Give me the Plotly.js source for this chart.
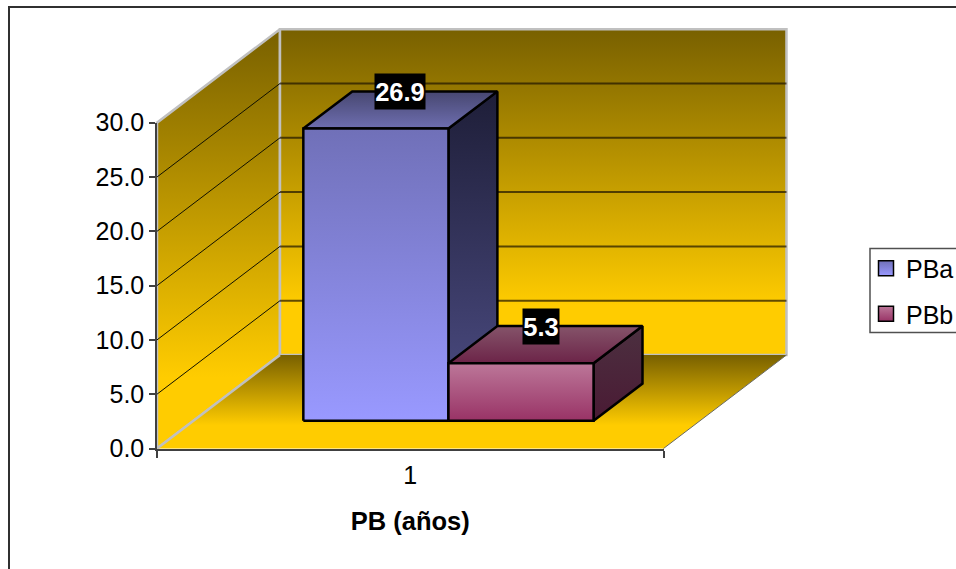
<!DOCTYPE html>
<html>
<head>
<meta charset="utf-8">
<script src="https://cdn.plot.ly/plotly-3.0.1.min.js"></script>
<style>html,body{margin:0;padding:0;background:#fff}#chart{width:956px;height:569px}</style>
</head>
<body>
<div id="chart"></div>
<script>
// Series and labels
const categories = [1];
const seriesNames = ['PBa', 'PBb'];
const seriesValues = [26.9, 5.3];
const yTicks = [0, 5, 10, 15, 20, 25, 30];
const axisTitle = 'PB (años)';

// Oblique box projection, in axis units
const DEPTH_X = 0.2428;     // horizontal run of the full floor depth
const DEPTH_Y = 8.61;       // vertical rise of the full floor depth
const BAR_WIDTH = 0.2865;   // each bar, as a share of the category slot
const BAR_OFFSET = 0.0033;  // the pair of bars sits a touch right of the slot centre
const DEPTH_NEAR = 0.297;   // front of the bars, as a share of the depth
const DEPTH_FAR = 0.695;    // back of the bars
const LABEL_SHIFT = [0, -4];
const LABEL_WIDTHS = [50, 36];

const XMIN = categories[0] - 0.5, XMAX = categories[0] + 0.5;
const YMIN = yTicks[0], YMAX = yTicks[yTicks.length - 1];

const faceColors = [
  {front: ['#9999FF', '#7070B8'], top: ['#6E6EB0', '#474770'], side: ['#4E4E86', '#1E1E38']},
  {front: ['#993366', '#BC7799'], top: ['#6C2448', '#85546A'], side: ['#4A1A34', '#4C3040']}
];

// Page geometry: the visible axes frame the front plane, and the drawing
// axes share their scale while reaching far enough to hold the depth.
const W = 956, H = 569;
const FRONT = {l: 157, r: 663.5, t: 122.7, b: 448.5};
const AREA = {l: 150, r: 795, t: 20, b: 456};
const M = {l: AREA.l, r: W - AREA.r, t: AREA.t, b: H - AREA.b};
const fx = p => (p - AREA.l) / (AREA.r - AREA.l);
const fy = p => (AREA.b - p) / (AREA.b - AREA.t);
const unitX = (XMAX - XMIN) / (FRONT.r - FRONT.l);
const unitY = (YMAX - YMIN) / (FRONT.b - FRONT.t);
const drawRangeX = [XMIN - (FRONT.l - AREA.l) * unitX, XMAX + (AREA.r - FRONT.r) * unitX];
const drawRangeY = [YMIN - (AREA.b - FRONT.b) * unitY, YMAX + (FRONT.t - AREA.t) * unitY];

const px = (x, d) => x + d * DEPTH_X;
const py = (v, d) => v + d * DEPTH_Y;

// A closed polygon from [x, value, depth] corners
function poly(corners) {
  const closed = corners.concat([corners[0]]);
  return {x: closed.map(c => px(c[0], c[2])), y: closed.map(c => py(c[1], c[2]))};
}

function face(corners, scale, line) {
  return Object.assign(poly(corners), {
    type: 'scatter', mode: line ? 'lines' : 'none', fill: 'toself', showlegend: false,
    hoverinfo: 'skip',
    line: line || {width: 0},
    fillgradient: {type: 'vertical', colorscale: scale}
  });
}

function stroke(corners, line) {
  const p = poly(corners);
  return {x: p.x.slice(0, -1), y: p.y.slice(0, -1), type: 'scatter', mode: 'lines',
    showlegend: false, hoverinfo: 'skip', line: line};
}

function stops(bottom, top) { return [[0, bottom], [1, top]]; }

const traces = [];

// Chart walls and floor
const wallEdge = {color: '#C0C0C0', width: 2.5};
traces.push(face([[XMIN, YMIN, 0], [XMIN, YMIN, 1], [XMIN, YMAX, 1], [XMIN, YMAX, 0]],
  [[0, '#FFCC00'], [0.17, '#FFCC00'], [1, '#786000']], wallEdge));
traces.push(face([[XMIN, YMIN, 1], [XMAX, YMIN, 1], [XMAX, YMAX, 1], [XMIN, YMAX, 1]],
  [[0, '#FFCC00'], [0.15, '#FFCC00'], [1, '#786000']], wallEdge));
traces.push(face([[XMIN, YMIN, 0], [XMAX, YMIN, 0], [XMAX, YMIN, 1], [XMIN, YMIN, 1]],
  [[0, '#FFCC00'], [0.25, '#FFCC00'], [1, '#786000']], null));

// Floor edges
traces.push(stroke([[XMIN, YMIN, 0], [XMIN, YMIN, 1]], {color: '#C0C0C0', width: 2.5}));
traces.push(stroke([[XMAX, YMIN, 0], [XMAX, YMIN, 1]], {color: '#6A6A60', width: 1}));

// Gridlines on the back wall and along the side wall
const backX = [], backY = [], sideX = [], sideY = [];
yTicks.slice(1, -1).forEach(v => {
  backX.push(px(XMIN, 1), px(XMAX, 1), null);
  backY.push(py(v, 1), py(v, 1), null);
  sideX.push(px(XMIN, 0), px(XMIN, 1), null);
  sideY.push(py(v, 0), py(v, 1), null);
});
traces.push({x: backX, y: backY, type: 'scatter', mode: 'lines', showlegend: false,
  hoverinfo: 'skip', connectgaps: false, line: {color: 'rgba(30,20,0,0.7)', width: 2}});
traces.push({x: sideX, y: sideY, type: 'scatter', mode: 'lines', showlegend: false,
  hoverinfo: 'skip', connectgaps: false, line: {color: '#111100', width: 1}});

// Bars: each series is a box with front, top and side faces
const barEdge = {color: '#000000', width: 2.5};
seriesValues.forEach((v, i) => {
  const x0 = categories[0] + BAR_OFFSET - BAR_WIDTH + i * BAR_WIDTH;
  const x1 = x0 + BAR_WIDTH;
  const n = DEPTH_NEAR, f = DEPTH_FAR, c = faceColors[i];
  traces.push(face([[x1, 0, n], [x1, 0, f], [x1, v, f], [x1, v, n]], stops(c.side[0], c.side[1]), barEdge));
  traces.push(face([[x0, v, n], [x1, v, n], [x1, v, f], [x0, v, f]], stops(c.top[0], c.top[1]), barEdge));
  traces.push(face([[x0, 0, n], [x1, 0, n], [x1, v, n], [x0, v, n]], stops(c.front[0], c.front[1]), barEdge));
});

// Legend keys, carried by the visible axes
seriesNames.forEach((name, i) => {
  traces.push({
    x: [null], y: [null], xaxis: 'x2', yaxis: 'y2', name: name, type: 'scatter', mode: 'markers',
    legendgroup: name,
    marker: {symbol: 'square', size: 15, color: faceColors[i].front[1],
      line: {color: '#000000', width: 1.5},
      gradient: {type: 'vertical', color: faceColors[i].front[0]}}
  });
});

// Value labels sit on the middle of each bar's top face
const annotations = seriesValues.map((v, i) => {
  const x0 = categories[0] + BAR_OFFSET - BAR_WIDTH + i * BAR_WIDTH;
  const mid = (DEPTH_NEAR + DEPTH_FAR) / 2;
  return {
    xref: 'x', yref: 'y',
    x: px(x0 + BAR_WIDTH / 2, mid),
    y: py(v, mid),
    xanchor: 'center', yanchor: 'bottom', xshift: LABEL_SHIFT[i],
    text: v.toFixed(1), showarrow: false, bgcolor: '#000000', borderpad: 0,
    width: LABEL_WIDTHS[i], height: 35,
    font: {family: 'Liberation Sans, Arial, sans-serif', size: 25.5, color: '#FFFFFF', weight: 700}
  };
});

const layout = {
  width: W, height: H, autosize: false, showlegend: true,
  paper_bgcolor: '#FFFFFF', plot_bgcolor: 'rgba(0,0,0,0)',
  margin: Object.assign({autoexpand: false, pad: 0}, M),
  font: {family: 'Liberation Sans, Arial, sans-serif', size: 25, color: '#000000'},
  xaxis: {domain: [0, 1], range: drawRangeX, visible: false, fixedrange: true},
  yaxis: {domain: [0, 1], range: drawRangeY, visible: false, fixedrange: true},
  xaxis2: {
    domain: [fx(FRONT.l), fx(FRONT.r)], anchor: 'y2',
    range: [XMIN, XMAX], fixedrange: true, showgrid: false, zeroline: false,
    showline: true, linecolor: '#404040', linewidth: 2,
    tickmode: 'array', tickvals: categories, ticktext: categories.map(String), ticks: '',
    minor: {tickmode: 'array', tickvals: [XMIN, XMAX], ticks: 'outside', ticklen: 7, tickwidth: 1.5, tickcolor: '#404040', showgrid: false},
    ticklabelstandoff: 3,
    title: {text: '<b>' + axisTitle + '</b>', standoff: 25, font: {size: 25.5}}
  },
  yaxis2: {
    domain: [fy(FRONT.b), fy(FRONT.t)], anchor: 'x2',
    range: [YMIN, YMAX], fixedrange: true, showgrid: false, zeroline: false,
    showline: true, linecolor: '#404040', linewidth: 1.5,
    tickmode: 'array', tickvals: yTicks, ticktext: yTicks.map(v => v.toFixed(1)),
    ticks: 'outside', ticklen: 6, tickwidth: 1.5, tickcolor: '#404040'
  },
  legend: {
    x: fx(866), y: fy(245.5), xanchor: 'left', yanchor: 'top',
    bgcolor: 'rgba(0,0,0,0)', borderwidth: 0, tracegroupgap: 10,
    font: {size: 25, color: '#000000'}
  },
  shapes: [
    // Chart frame, running past the page edges on the right and at the bottom
    {type: 'rect', xref: 'paper', yref: 'paper', x0: fx(9), x1: fx(975), y0: fy(7), y1: fy(580),
      line: {color: '#303030', width: 2}, layer: 'below'},
    // Legend frame
    {type: 'rect', xref: 'paper', yref: 'paper', x0: fx(870), x1: fx(975), y0: fy(248.5), y1: fy(332.5),
      line: {color: '#505050', width: 1.5}, layer: 'below'}
  ],
  annotations: annotations
};

Plotly.newPlot('chart', traces, layout, {displayModeBar: false, responsive: false});
</script>
</body>
</html>
